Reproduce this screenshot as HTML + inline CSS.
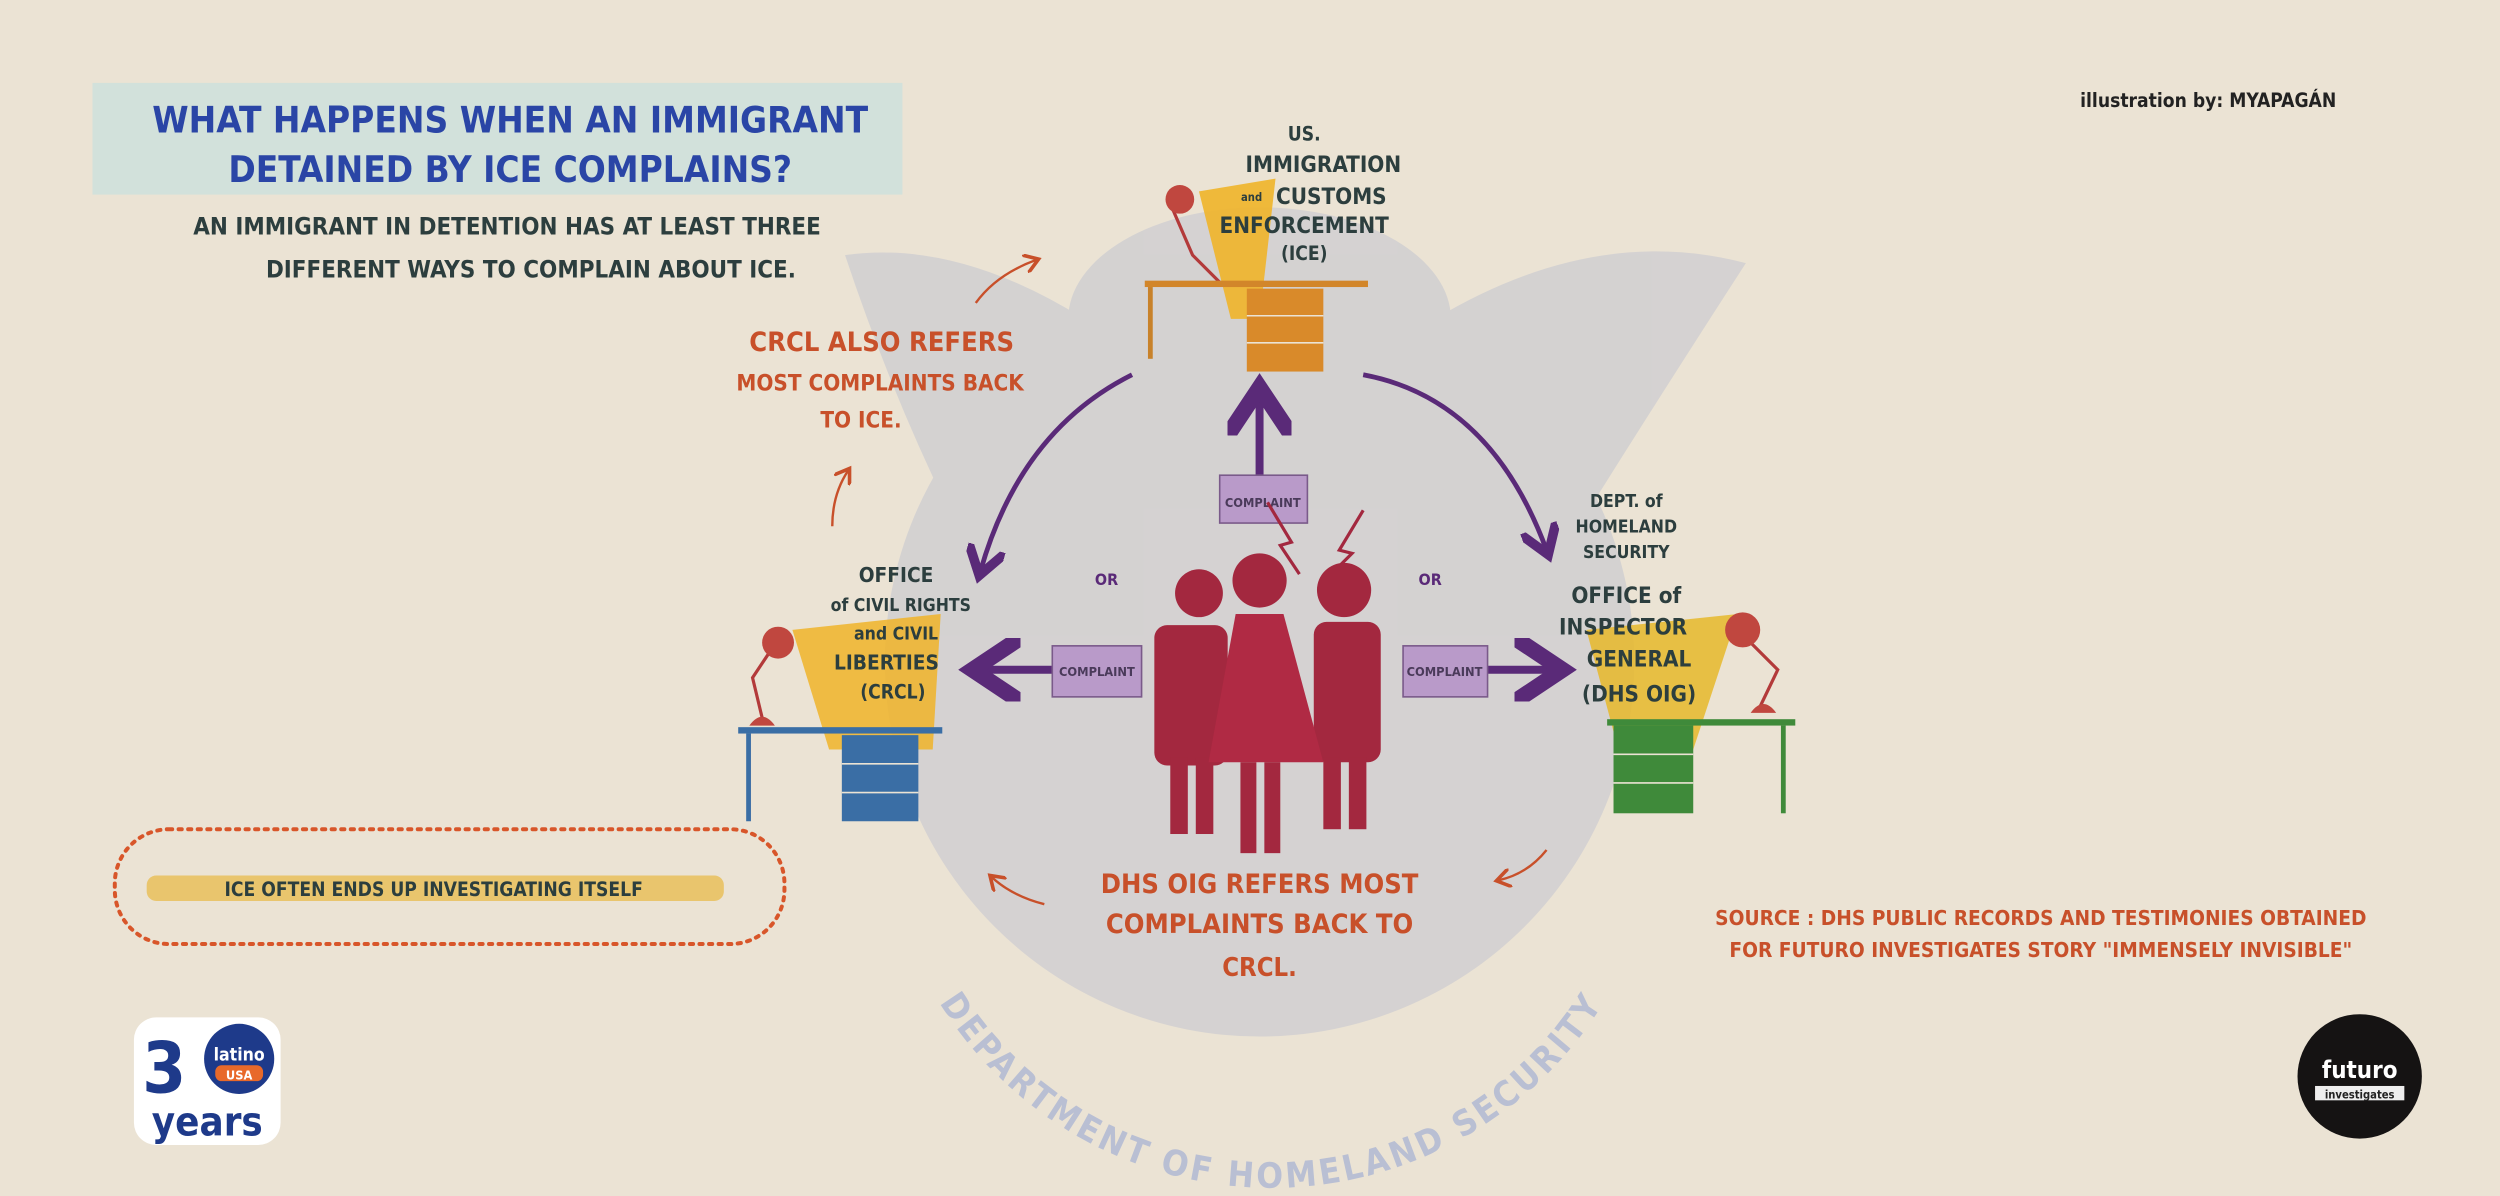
<!DOCTYPE html>
<html><head><meta charset="utf-8"><style>
html,body{margin:0;padding:0;background:#ebe3d4;}
svg{display:block;}
text{font-family:"Liberation Sans Narrow","DejaVu Sans Condensed","Liberation Sans",sans-serif;font-weight:bold;}
</style></head><body>
<svg width="2500" height="1196" viewBox="0 0 1568 750" preserveAspectRatio="none" xmlns="http://www.w3.org/2000/svg">
<defs>
<marker id="pa" markerWidth="8" markerHeight="8" refX="5" refY="4" orient="auto"><path d="M0,0 L6,4 L0,8" fill="none" stroke="#5a2a78" stroke-width="2"/></marker>
<marker id="oa" markerWidth="8" markerHeight="8" refX="5" refY="4" orient="auto"><path d="M0,0 L6,4 L0,8" fill="none" stroke="#c8502a" stroke-width="1.5"/></marker>
<path id="arc" d="M560,560 A245,245 0 0 0 1035,560"/>
</defs>
<rect width="1568" height="750" fill="#ebe3d4"/>
<!-- seal -->
<g fill="#c3c5d0" opacity="0.55">
<circle cx="790" cy="415" r="235"/>
<path d="M530,160 Q600,150 680,200 L700,300 L600,330 Q560,250 530,160Z"/>
<path d="M1095,165 Q1000,140 900,200 L880,300 L990,330 Q1040,250 1095,165Z"/>
<ellipse cx="790" cy="200" rx="120" ry="70"/>
</g>
<text font-size="22" fill="#b9bfd3" letter-spacing="2" font-weight="normal"><textPath href="#arc" startOffset="50%" text-anchor="middle">DEPARTMENT OF HOMELAND SECURITY</textPath></text>
<!-- title -->
<rect x="58" y="52" width="508" height="70" fill="#cfe0dc" opacity="0.9"/>
<text x="320" y="83" font-size="23" fill="#2a45a6" text-anchor="middle">WHAT HAPPENS WHEN AN IMMIGRANT</text>
<text x="320" y="114" font-size="23" fill="#2a45a6" text-anchor="middle">DETAINED BY ICE COMPLAINS?</text>
<text x="318" y="147" font-size="15" fill="#2c3e3e" text-anchor="middle" font-weight="normal">AN IMMIGRANT IN DETENTION HAS AT LEAST THREE</text>
<text x="333" y="174" font-size="15" fill="#2c3e3e" text-anchor="middle" font-weight="normal">DIFFERENT WAYS TO COMPLAIN ABOUT ICE.</text>
<text x="1385" y="67" font-size="12" fill="#222" text-anchor="middle" font-weight="normal">illustration by: MYAPAGÁN</text>
<!-- ICE desk -->
<path d="M752,120 L800,112 L790,200 L772,200 Z" fill="#f0b429" opacity="0.9"/>
<path d="M735,130 L748,160 L765,177" stroke="#b33a3a" stroke-width="2" fill="none"/>
<circle cx="740" cy="125" r="9" fill="#c0473f"/>
<rect x="718" y="176" width="140" height="4" fill="#d2862a"/>
<rect x="720" y="180" width="3" height="45" fill="#c8822a"/>
<rect x="782" y="181" width="48" height="52" fill="#d98a2a"/>
<line x1="782" y1="198" x2="830" y2="198" stroke="#ebe3d4"/><line x1="782" y1="215" x2="830" y2="215" stroke="#ebe3d4"/>
<g fill="#2c3e3e" text-anchor="middle"><text x="818" y="88" font-size="12">US.</text><text x="830" y="108" font-size="14">IMMIGRATION</text><text x="835" y="128" font-size="14">CUSTOMS</text><text x="818" y="146" font-size="14">ENFORCEMENT</text><text x="818" y="163" font-size="12">(ICE)</text><text x="785" y="126" font-size="7">and</text></g>
<!-- central arrows -->
<path d="M790,300 L790,248" stroke="#5a2a78" stroke-width="5" marker-end="url(#pa)"/>
<rect x="765" y="298" width="55" height="30" fill="#b99ac9" stroke="#7a5a8a"/><text x="792" y="318" font-size="8" fill="#4a3a5a" text-anchor="middle">COMPLAINT</text>
<path d="M660,420 L615,420" stroke="#5a2a78" stroke-width="5" marker-end="url(#pa)"/>
<rect x="660" y="405" width="56" height="32" fill="#b99ac9" stroke="#7a5a8a"/><text x="688" y="424" font-size="8" fill="#4a3a5a" text-anchor="middle">COMPLAINT</text>
<path d="M933,420 L975,420" stroke="#5a2a78" stroke-width="5" marker-end="url(#pa)"/>
<rect x="880" y="405" width="53" height="32" fill="#b99ac9" stroke="#7a5a8a"/><text x="906" y="424" font-size="8" fill="#4a3a5a" text-anchor="middle">COMPLAINT</text>
<path d="M710,235 Q640,270 615,358" stroke="#5a2a78" stroke-width="3" fill="none" marker-end="url(#pa)"/>
<path d="M855,235 Q935,250 970,345" stroke="#5a2a78" stroke-width="3" fill="none" marker-end="url(#pa)"/>
<text x="694" y="367" font-size="10" fill="#5a2a78" text-anchor="middle" font-weight="normal">OR</text>
<text x="897" y="367" font-size="10" fill="#5a2a78" text-anchor="middle" font-weight="normal">OR</text>
<!-- people -->
<g fill="#a3283f">
<circle cx="752" cy="372" r="15"/><rect x="724" y="392" width="46" height="88" rx="8"/><rect x="734" y="475" width="11" height="48"/><rect x="750" y="475" width="11" height="48"/>
<circle cx="843" cy="370" r="17"/><rect x="824" y="390" width="42" height="88" rx="8"/><rect x="830" y="475" width="11" height="45"/><rect x="846" y="475" width="11" height="45"/>
<circle cx="790" cy="364" r="17"/><path d="M775,385 L805,385 L830,478 L758,478Z" fill="#b02a44"/><rect x="778" y="478" width="10" height="57"/><rect x="793" y="478" width="10" height="57"/>
</g>
<path d="M795,315 L810,340 L803,342 L815,360" stroke="#a3283f" stroke-width="2" fill="none"/>
<path d="M855,320 L840,345 L848,347 L830,365" stroke="#a3283f" stroke-width="2" fill="none"/>
<!-- CRCL desk -->
<path d="M497,395 L590,385 L585,470 L520,470 Z" fill="#f0b429" opacity="0.85"/>
<path d="M482,410 L472,425 L478,450" stroke="#b33a3a" stroke-width="2" fill="none"/>
<circle cx="488" cy="403" r="10" fill="#c0473f"/><path d="M470,455 Q478,444 486,455Z" fill="#c0473f"/>
<rect x="463" y="456" width="128" height="4" fill="#3a6ea5"/>
<rect x="468" y="460" width="3" height="55" fill="#3a6ea5"/>
<rect x="528" y="461" width="48" height="54" fill="#3a6ea5"/>
<line x1="528" y1="479" x2="576" y2="479" stroke="#ebe3d4"/><line x1="528" y1="497" x2="576" y2="497" stroke="#ebe3d4"/>
<g fill="#2c3e3e" text-anchor="middle"><text x="562" y="365" font-size="13">OFFICE</text><text x="565" y="383" font-size="11">of CIVIL RIGHTS</text><text x="562" y="401" font-size="11">and CIVIL</text><text x="556" y="420" font-size="13">LIBERTIES</text><text x="560" y="438" font-size="12">(CRCL)</text></g>
<!-- OIG desk -->
<path d="M995,395 L1090,385 L1062,470 L1015,470 Z" fill="#e6b82a" opacity="0.85"/>
<path d="M1095,400 L1115,420 L1103,445" stroke="#b33a3a" stroke-width="2" fill="none"/>
<circle cx="1093" cy="395" r="11" fill="#c0473f"/><path d="M1098,447 Q1106,436 1114,447Z" fill="#c0473f"/>
<rect x="1008" y="451" width="118" height="4" fill="#3f8a3a"/>
<rect x="1117" y="455" width="3" height="55" fill="#3f8a3a"/>
<rect x="1012" y="455" width="50" height="55" fill="#3f8a3a"/>
<line x1="1012" y1="473" x2="1062" y2="473" stroke="#ebe3d4"/><line x1="1012" y1="491" x2="1062" y2="491" stroke="#ebe3d4"/>
<g fill="#2c3e3e" text-anchor="middle"><text x="1020" y="318" font-size="11">DEPT. of</text><text x="1020" y="334" font-size="11">HOMELAND</text><text x="1020" y="350" font-size="11">SECURITY</text><text x="1020" y="378" font-size="14">OFFICE of</text><text x="1018" y="398" font-size="14">INSPECTOR</text><text x="1028" y="418" font-size="14">GENERAL</text><text x="1028" y="440" font-size="14">(DHS OIG)</text></g>
<!-- orange notes -->
<g fill="#c8502a" text-anchor="middle" font-weight="normal"><text x="553" y="220" font-size="17">CRCL ALSO REFERS</text><text x="552" y="245" font-size="14">MOST COMPLAINTS BACK</text><text x="540" y="268" font-size="14">TO ICE.</text>
<text x="790" y="560" font-size="17">DHS OIG REFERS MOST</text><text x="790" y="585" font-size="17">COMPLAINTS BACK TO</text><text x="790" y="612" font-size="16">CRCL.</text>
<text x="1280" y="580" font-size="13">SOURCE : DHS PUBLIC RECORDS AND TESTIMONIES OBTAINED</text><text x="1280" y="600" font-size="13">FOR FUTURO INVESTIGATES STORY "IMMENSELY INVISIBLE"</text></g>
<g stroke="#c8502a" stroke-width="1.5" fill="none"><path d="M612,190 Q625,172 650,163" marker-end="url(#oa)"/><path d="M522,330 Q522,310 532,295" marker-end="url(#oa)"/><path d="M655,567 Q635,562 622,550" marker-end="url(#oa)"/><path d="M970,533 Q958,548 940,552" marker-end="url(#oa)"/></g>
<rect x="72" y="520" width="420" height="72" rx="34" fill="none" stroke="#d8562a" stroke-width="2.5" stroke-dasharray="2,4" stroke-linecap="round"/>
<rect x="92" y="549" width="362" height="16" rx="6" fill="#e9bf5a" opacity="0.85"/>
<text x="272" y="562" font-size="12" fill="#2c3e3e" text-anchor="middle" font-weight="normal">ICE OFTEN ENDS UP INVESTIGATING ITSELF</text>
<!-- logos -->
<rect x="84" y="638" width="92" height="80" rx="14" fill="#fff"/>
<text x="103" y="685" font-size="44" fill="#1e3a8a" text-anchor="middle">3</text>
<circle cx="150" cy="664" r="22" fill="#1e3a8a"/>
<text x="150" y="665" font-size="11" fill="#fff" text-anchor="middle">latino</text>
<rect x="135" y="668" width="30" height="10" rx="4" fill="#e8692a"/><text x="150" y="677" font-size="8" fill="#fff" text-anchor="middle">USA</text>
<text x="130" y="712" font-size="25" fill="#1e3a8a" text-anchor="middle">years</text>
<circle cx="1480" cy="675" r="39" fill="#151313"/>
<text x="1480" y="676" font-size="15" fill="#fff" text-anchor="middle">futuro</text>
<rect x="1452" y="681" width="56" height="9" fill="#eee"/><text x="1480" y="689" font-size="7" fill="#222" text-anchor="middle" font-weight="normal">investigates</text>
</svg>
</body></html>
